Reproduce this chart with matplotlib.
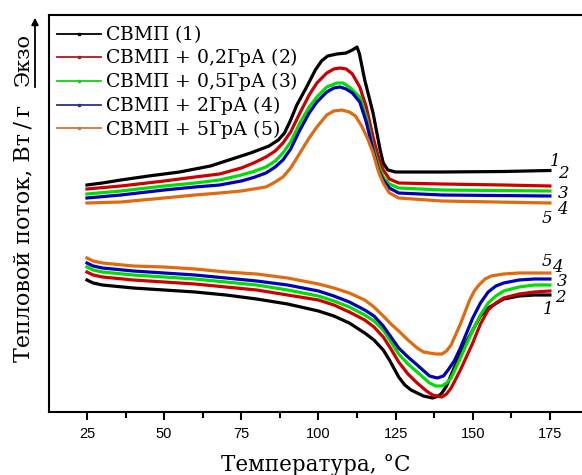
import matplotlib
matplotlib.use("Agg")
import matplotlib.pyplot as plt
from matplotlib.lines import Line2D
from matplotlib.patches import FancyArrowPatch
from matplotlib.ticker import MultipleLocator

plt.rcParams["mathtext.fontset"] = "dejavuserif"

# --- данные (произвольные единицы теплового потока) ---
names = ["СВМП ($\\mathit{1}$)", "СВМП + 0,2ГрА ($\\mathit{2}$)", "СВМП + 0,5ГрА ($\\mathit{3}$)",
         "СВМП + 2ГрА ($\\mathit{4}$)", "СВМП + 5ГрА ($\\mathit{5}$)"]
colors = ["#000000", "#cc0000", "#00dd00", "#0000b8", "#e06a10"]
legend_colors = ["#000000", "#b01818", "#10d010", "#303080", "#c87a40"]

# нагрев (верхние кривые)
t_heat_1 = [25, 30, 36, 45, 55, 65, 72, 78, 84, 87, 89, 91, 93, 96, 99, 101, 103, 106, 109, 111, 112.5, 113.3, 115, 117.7, 120, 121, 122.5, 125, 140, 160, 175]
q_heat_1 = [22.7, 22.9, 23.2, 23.6, 24.0, 24.6, 25.3, 25.9, 26.6, 27.2, 27.9, 29.2, 30.7, 32.4, 34.2, 35.1, 35.6, 35.8, 35.9, 36.2, 36.5, 35.8, 33.2, 29.9, 26.2, 24.9, 24.2, 24.0, 24.0, 24.05, 24.15]
t_heat_2 = [25, 36, 50, 60, 68, 75, 79, 83, 86, 88.5, 91, 94, 97, 99.5, 102.7, 105, 107, 109, 111, 113.4, 115.5, 117.7, 119.5, 121, 123, 126, 140, 160, 175]
q_heat_2 = [22.3, 22.6, 23.1, 23.5, 23.8, 24.4, 24.9, 25.5, 26.1, 26.9, 28.0, 29.9, 31.7, 32.9, 33.9, 34.3, 34.4, 34.3, 33.8, 32.5, 30.5, 27.5, 25.4, 24.2, 23.3, 22.9, 22.8, 22.7, 22.6]
t_heat_3 = [25, 36, 50, 60, 68, 75, 79, 83, 86, 88.5, 91, 94, 97, 99.5, 102.7, 106, 108, 110, 113.4, 115.5, 117.7, 119.5, 121, 123, 126, 140, 175]
q_heat_3 = [21.8, 22.1, 22.6, 22.9, 23.2, 23.7, 24.05, 24.5, 25.1, 25.9, 27.0, 28.9, 30.5, 31.5, 32.5, 32.9, 32.9, 32.5, 31.5, 29.5, 26.5, 24.6, 23.5, 22.8, 22.4, 22.2, 22.1]
t_heat_4 = [25, 36, 50, 60, 68, 75, 79, 83, 86, 88.5, 91, 94, 97, 99.5, 102.7, 105, 107, 109, 111, 113.4, 115.5, 117.7, 119.5, 121, 123, 126, 140, 175]
q_heat_4 = [21.4, 21.7, 22.2, 22.5, 22.7, 23.1, 23.45, 23.9, 24.5, 25.2, 26.3, 28.2, 29.9, 31.0, 32.0, 32.4, 32.5, 32.3, 31.9, 31.0, 29.0, 26.2, 24.2, 23.2, 22.4, 21.9, 21.7, 21.6]
t_heat_5 = [25, 36, 50, 60, 68, 75, 79, 83, 86, 88.5, 91, 94, 97, 99.5, 102.7, 105, 107.6, 110, 112, 114, 116, 117.7, 119.5, 121, 123, 126, 140, 175]
q_heat_5 = [20.9, 21.0, 21.4, 21.7, 21.9, 22.1, 22.3, 22.5, 23.0, 23.5, 24.4, 25.9, 27.4, 28.5, 29.7, 30.1, 30.2, 30.0, 29.6, 28.6, 27.3, 25.9, 24.0, 22.9, 21.9, 21.4, 21.1, 20.9]

# охлаждение (нижние кривые)
t_cool_1 = [25, 27, 30, 40, 50, 60, 70, 80, 90, 100, 105, 110, 115, 118, 121, 123, 126, 128, 130, 134, 137, 139, 140, 141.5, 143, 146, 150, 152.5, 155, 160, 165, 170, 175]
q_cool_1 = [13.2, 12.9, 12.7, 12.4, 12.2, 12.0, 11.7, 11.3, 10.8, 10.1, 9.6, 8.9, 7.9, 7.2, 6.2, 5.2, 3.5, 2.7, 2.2, 1.6, 1.4, 1.6, 1.9, 2.6, 3.7, 5.9, 8.2, 9.6, 10.4, 11.3, 11.6, 11.7, 11.7]
t_cool_2 = [25, 27, 30, 40, 50, 60, 70, 80, 90, 100, 105, 110, 115, 118, 121, 123.5, 126, 129, 132, 135, 137, 140, 141.5, 143, 146, 150, 152.5, 155, 157.5, 160, 165, 170, 175]
q_cool_2 = [14.0, 13.7, 13.5, 13.2, 13.0, 12.8, 12.5, 12.2, 11.7, 11.2, 10.7, 10.0, 9.2, 8.5, 7.5, 6.3, 5.0, 3.8, 2.9, 2.1, 1.7, 1.5, 1.8, 2.4, 4.2, 6.9, 8.8, 10.2, 10.9, 11.4, 11.8, 12.0, 12.1]
t_cool_3 = [25, 27, 30, 40, 50, 60, 70, 80, 90, 100, 105, 110, 115, 118, 121, 123.5, 126, 129, 132, 136, 138, 140, 141.5, 143, 146, 150, 152.5, 155, 157.5, 160, 165, 170, 175]
q_cool_3 = [14.5, 14.2, 14.0, 13.7, 13.5, 13.3, 13.0, 12.7, 12.2, 11.6, 11.1, 10.5, 9.7, 9.1, 8.2, 7.0, 5.8, 4.8, 4.0, 2.9, 2.6, 2.6, 2.9, 3.4, 5.4, 8.2, 9.7, 10.9, 11.6, 12.1, 12.5, 12.7, 12.7]
t_cool_4 = [25, 27, 30, 40, 50, 60, 70, 80, 90, 100, 105, 110, 115, 118, 121, 123.5, 126, 129, 132, 136, 138.5, 140.5, 142, 144, 146, 150, 152.5, 155, 157.5, 160, 165, 170, 175]
q_cool_4 = [14.9, 14.6, 14.4, 14.1, 13.9, 13.7, 13.4, 13.1, 12.7, 12.1, 11.6, 11.0, 10.2, 9.6, 8.6, 7.5, 6.4, 5.5, 4.7, 3.6, 3.4, 3.6, 4.2, 5.1, 6.4, 9.4, 10.9, 12.0, 12.6, 12.9, 13.2, 13.3, 13.3]
t_cool_5 = [25, 27, 30, 40, 50, 60, 70, 80, 90, 100, 105, 110, 115, 118, 121, 123.5, 126, 129, 132, 134, 136, 138, 140, 141.5, 143, 146, 149, 150.5, 152, 154, 156, 160, 165, 175]
q_cool_5 = [15.4, 15.1, 14.9, 14.6, 14.5, 14.3, 14.0, 13.8, 13.4, 12.8, 12.4, 11.9, 11.2, 10.5, 9.6, 8.8, 8.1, 7.2, 6.4, 6.0, 5.9, 5.8, 5.8, 6.1, 6.7, 8.8, 11.2, 12.1, 12.7, 13.3, 13.6, 13.8, 13.9, 13.9]

heat = [(t_heat_1, q_heat_1), (t_heat_2, q_heat_2), (t_heat_3, q_heat_3), (t_heat_4, q_heat_4), (t_heat_5, q_heat_5)]
cool = [(t_cool_1, q_cool_1), (t_cool_2, q_cool_2), (t_cool_3, q_cool_3), (t_cool_4, q_cool_4), (t_cool_5, q_cool_5)]

# номера кривых справа: (T, q)
heat_num_pos = [(176.8, 25.1), (179.4, 23.8), (179.2, 21.9), (178.9, 20.3), (174.0, 19.4)]
cool_num_pos = [(174.3, 10.3), (178.4, 11.4), (178.9, 13.0), (177.4, 14.4), (174.0, 15.1)]

serif = ["DejaVu Serif"]

fig = plt.figure(figsize=(5.82, 4.75), dpi=100)
ax = fig.add_axes([49 / 582, 63 / 475, 1 - 49 / 582, 397 / 475])

for (t, q), c in zip(heat, colors):
    ax.plot(t, q, color=c, lw=2.3, solid_joinstyle="round")
for (t, q), c in zip(cool, colors):
    ax.plot(t, q, color=c, lw=2.3, solid_joinstyle="round")

for i, (x, y) in enumerate(heat_num_pos):
    ax.text(x, y, str(i + 1), family=serif, style="italic", fontsize=12, ha="center", va="center")
for i, (x, y) in enumerate(cool_num_pos):
    ax.text(x, y, str(i + 1), family=serif, style="italic", fontsize=12, ha="center", va="center")

ax.set_xlim(12.7, 185.4)
ax.set_ylim(0, 39.7)
ax.xaxis.set_minor_locator(MultipleLocator(12.5))
ax.set_xticks([25, 50, 75, 100, 125, 150, 175])
ax.tick_params(axis="x", which="major", direction="out", length=6, width=1.5, labelsize=10.5, pad=5)
ax.tick_params(axis="x", which="minor", direction="out", length=4, width=1.5)
ax.set_yticks([])
for s in ["left", "bottom", "top"]:
    ax.spines[s].set_linewidth(1.5)
ax.spines["right"].set_visible(False)
for lab in ax.get_xticklabels():
    lab.set_family("Liberation Sans")

ax.set_xlabel("Температура, °С", family=serif, fontsize=15.5, labelpad=9)

fig.text(23 / 582, 1 - 362 / 475, "Тепловой поток, Вт\u2009/\u2009г", family=serif, fontsize=16,
         rotation=90, ha="center", va="bottom")
fig.text(23 / 582, 1 - 86 / 475, "Экзо", family=serif, fontsize=15,
         rotation=90, ha="center", va="bottom")
fig.add_artist(FancyArrowPatch((35 / 582, 1 - 90 / 475), (35 / 582, 1 - 15 / 475),
                               transform=fig.transFigure, arrowstyle="-|>",
                               mutation_scale=10, lw=1.3, color="black"))

handles = [Line2D([], [], color=c, lw=1.3, marker="s", markersize=2) for c in legend_colors]
ax.legend(handles, names, loc="upper left", bbox_to_anchor=(0.0, 1.0), frameon=False,
          prop={"family": serif, "size": 13.5}, handlelength=2.3, handletextpad=0.25,
          labelspacing=0.05, borderpad=0.25, borderaxespad=0.2, numpoints=1)

fig.savefig("out.png", dpi=100)
